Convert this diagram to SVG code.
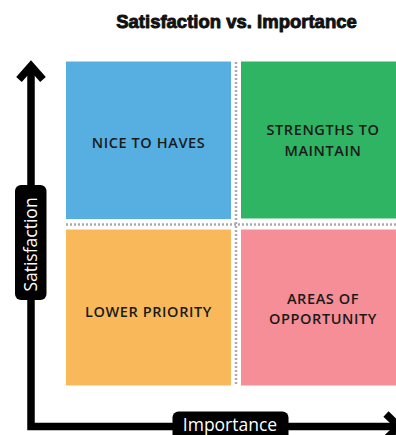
<svg xmlns="http://www.w3.org/2000/svg" width="396" height="435" viewBox="0 0 396 435">
<style>
.title{font-family:"Liberation Sans",Arial,sans-serif;font-weight:bold;font-size:18.5px;fill:#111;stroke:#111;stroke-width:0.9px;stroke-linejoin:round;text-anchor:middle}
.q{font-family:"Open Sans","Noto Sans",sans-serif;font-weight:600;font-size:14.5px;fill:#1a1a1a;text-anchor:middle;letter-spacing:0.6px}
.ax{font-family:"Open Sans","Noto Sans",sans-serif;font-size:17.5px;fill:#fff;text-anchor:middle}
.dot{fill:none;stroke:#aaaaaa;stroke-width:2.5;stroke-dasharray:2 2}
.axis{fill:none;stroke:#000;stroke-width:7.5}
</style>
<rect width="396" height="435" fill="#fff"/>
<text class="title" x="236.5" y="28">Satisfaction vs. Importance</text>
<g id="nice-to-haves">
<rect x="66" y="61.5" width="165" height="157.5" fill="#56AEE1"/>
<text class="q" x="148.5" y="148">NICE TO HAVES</text>
</g>
<g id="strengths-to-maintain">
<rect x="241" y="61.5" width="155" height="157" fill="#2EB463"/>
<text class="q" x="323" y="135">STRENGTHS TO</text>
<text class="q" x="323" y="155.5">MAINTAIN</text>
</g>
<g id="lower-priority">
<rect x="66" y="229.5" width="165" height="156" fill="#F9B95A"/>
<text class="q" x="148.5" y="316.5">LOWER PRIORITY</text>
</g>
<g id="areas-of-opportunity">
<rect x="241" y="229.5" width="155" height="156" fill="#F58E96"/>
<text class="q" x="323" y="303.5">AREAS OF</text>
<text class="q" x="323" y="323.5">OPPORTUNITY</text>
</g>
<g id="dividers">
<line class="dot" x1="66" y1="224.5" x2="396" y2="224.5"/>
<line class="dot" x1="236" y1="62" x2="236" y2="386"/>
</g>
<g id="connectors">
<polyline class="axis" points="31,66 31,426.5 396,426.5"/>
<polyline class="axis" points="19,79.5 31,66 43,79.5" stroke-linejoin="miter"/>
<polyline class="axis" points="386,414 399,426.5 386,439" stroke-linejoin="miter"/>
</g>
<g id="satisfaction-label">
<rect x="15" y="185" width="31.5" height="115" rx="6" fill="#000"/>
<text class="ax" transform="translate(37,244.5) rotate(-90)">Satisfaction</text>
</g>
<g id="importance-label">
<rect x="172.5" y="411.5" width="116" height="30" rx="6" fill="#000"/>
<text class="ax" x="230" y="430.5">Importance</text>
</g>
</svg>
